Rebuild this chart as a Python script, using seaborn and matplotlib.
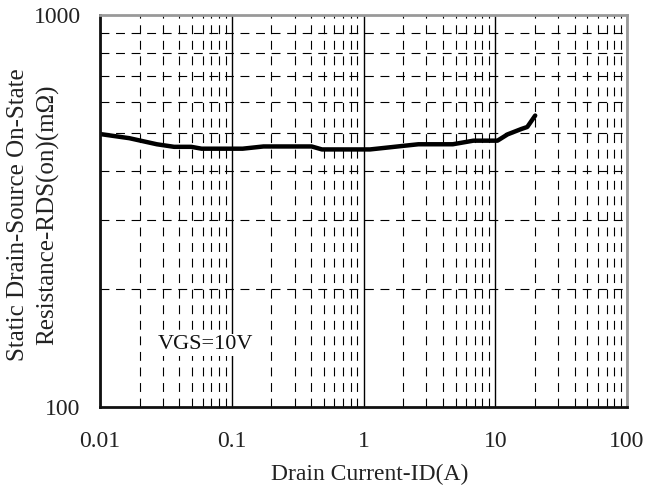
import numpy as np
import pandas as pd
import matplotlib
matplotlib.use("Agg")
import matplotlib.pyplot as plt
import seaborn as sns
from matplotlib.ticker import LogLocator, FixedLocator, NullFormatter

# Data
drain_current = [0.01, 0.0167, 0.027, 0.0365, 0.0493, 0.059, 0.121, 0.174, 0.404,
                 0.484, 1.12, 2.05, 2.61, 4.76, 6.83, 10.4, 12.4, 15.8, 17.5, 20.1]
rds_on = [497, 485, 468, 461, 461, 456, 456, 462, 462,
          454, 454, 464, 468, 468, 478, 478, 496, 512, 518, 554]
x_ticks = [0.01, 0.1, 1, 10, 100]
x_tick_labels = ["0.01", "0.1", "1", "10", "100"]
y_ticks = [100, 1000]
y_tick_labels = ["100", "1000"]
annotation = "VGS=10V"

sns.set_theme(style="white")
plt.rcParams['font.family'] = ['Liberation Serif', 'DejaVu Serif']

fig = plt.figure(figsize=(6.46, 4.88), dpi=100)
ax = fig.add_axes([100/646, 1 - 407/488, 527/646, 392/488])

df = pd.DataFrame({"ID": drain_current, "RDS": rds_on})
ax.set_xscale("log")
ax.set_yscale("log")
ax.set_xlim(0.01, 100)
ax.set_ylim(100, 1000)

# grid
ax.xaxis.set_major_locator(FixedLocator(x_ticks))
ax.yaxis.set_major_locator(FixedLocator(y_ticks))
ax.xaxis.set_minor_locator(LogLocator(base=10, subs=np.arange(2, 10), numticks=20))
ax.yaxis.set_minor_locator(LogLocator(base=10, subs=np.arange(2, 10), numticks=20))
ax.xaxis.set_minor_formatter(NullFormatter())
ax.yaxis.set_minor_formatter(NullFormatter())
ax.grid(True, which="major", axis="x", color="black", linewidth=1.0, linestyle="-")
ax.grid(True, which="minor", axis="both", color="black", linewidth=0.8, linestyle=(0, (8, 6)))
ax.set_axisbelow(True)

sns.lineplot(data=df, x="ID", y="RDS", ax=ax, color="black", linewidth=3.2,
             estimator=None, sort=False, legend=False)

ax.set_xticks(x_ticks)
ax.set_xticklabels(x_tick_labels)
ax.set_yticks(y_ticks)
ax.set_yticklabels(y_tick_labels)
ax.tick_params(axis="both", which="both", length=0, labelsize=17, colors="#222222")
ax.tick_params(axis="x", pad=17)
ax.tick_params(axis="y", pad=14)

ax.set_xlabel("Drain Current-ID(A)", fontsize=17, color="#222222")
ax.xaxis.label.set_va("center")
ax.xaxis.set_label_coords(0.511, -0.171)
ax.set_ylabel("Static Drain-Source On-State\nResistance-RDS(on)(m\u03a9)", fontsize=18,
              color="#222222", linespacing=1.4)
ax.yaxis.label.set_va("center")
ax.yaxis.label.set_ha("center")
ax.yaxis.set_label_coords(-0.127, 0.49)

for side in ["left", "bottom"]:
    ax.spines[side].set_color("#111111")
    ax.spines[side].set_linewidth(2)
for side in ["top", "right"]:
    ax.spines[side].set_color("#999999")
    ax.spines[side].set_linewidth(2)

ax.text(0.0275, 144, annotation, fontsize=16, color="#111111", va="center", ha="left",
        bbox=dict(facecolor="white", edgecolor="none", pad=1.0))

fig.savefig("out.png", dpi=100)
